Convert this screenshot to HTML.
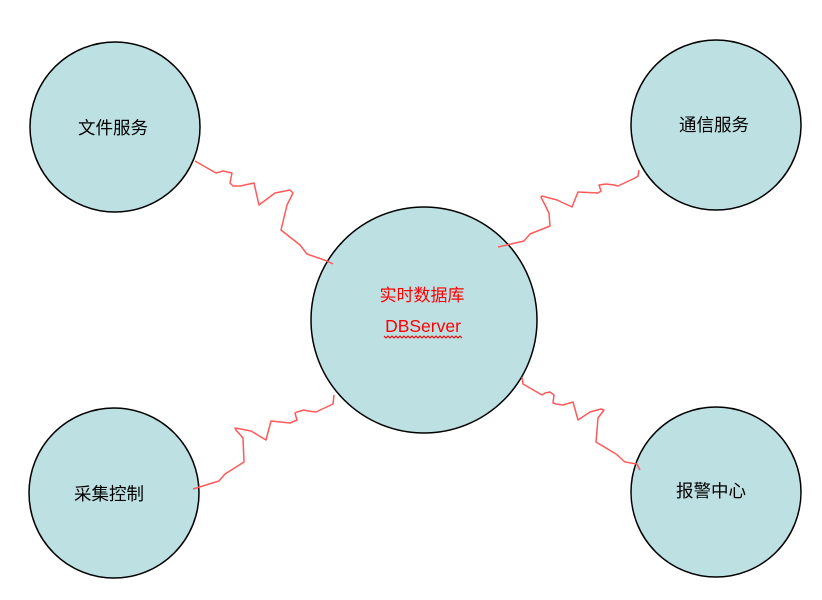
<!DOCTYPE html>
<html><head><meta charset="utf-8"><style>
html,body{margin:0;padding:0;background:#fff;}
svg{display:block;}
text{font-family:"Liberation Sans","Noto Sans CJK SC",sans-serif;}
</style></head><body>
<svg width="822" height="600" viewBox="0 0 822 600" xmlns="http://www.w3.org/2000/svg">
<g fill="#bde0e3" stroke="#000" stroke-width="1.5">
<circle cx="115" cy="127" r="85"/>
<circle cx="716" cy="125" r="85"/>
<circle cx="424" cy="320" r="113"/>
<circle cx="114" cy="493" r="85"/>
<circle cx="716" cy="492" r="85"/>
</g>
<g fill="none" stroke="#ff5a5a" stroke-width="1.5" stroke-linejoin="round">
<polyline points="195,161 216,173 223,171 232,173 230,183 233,186 240,186 254,183 259,205 275,193 290,190 293,193 287,205 281,230 300,245 307,254 327,261 333,264"/>
<polyline points="498,247 524,241 530,234 550,226 549,213 541,197 542,196 557,200 572,207 578,192 598,193 601,191 599,185 606,184 614,185 618,186 635,178 638,176 639,170"/>
<polyline points="193,489 219,481 225,474 244,462 243,438 236,430 235,428 251,431 266,440 271,421 290,423 297,420 295,413 297,412 304,410 308,411 316,412 333,404 334,395"/>
<polyline points="522,377 523,384 542,395 545,393 550,392 554,395 553,403 556,404 563,405 573,402 578,420 590,412 601,409 604,410 598,418 596,442 616,454 625,462 637,464 640,470"/>
</g>
<g font-size="17.5" fill="#000" text-anchor="middle">
<text x="113" y="134">文件服务</text>
<text x="714" y="131">通信服务</text>
<text x="109" y="500">采集控制</text>
<text x="711" y="497">报警中心</text>
</g>
<text x="422" y="301" font-size="17" fill="#ff0000" text-anchor="middle">实时数据库</text>
<text x="423" y="332" font-size="17.5" fill="#ff0000" text-anchor="middle">DBServer</text>
<polyline fill="none" stroke="#ff0000" stroke-width="1" points="384,336 386,338 388,336 390,338 392,336 394,338 396,336 398,338 400,336 402,338 404,336 406,338 408,336 410,338 412,336 414,338 416,336 418,338 420,336 422,338 424,336 426,338 428,336 430,338 432,336 434,338 436,336 438,338 440,336 442,338 444,336 446,338 448,336 450,338 452,336 454,338 456,336 458,338 460,336 462,338"/>
</svg>
</body></html>
